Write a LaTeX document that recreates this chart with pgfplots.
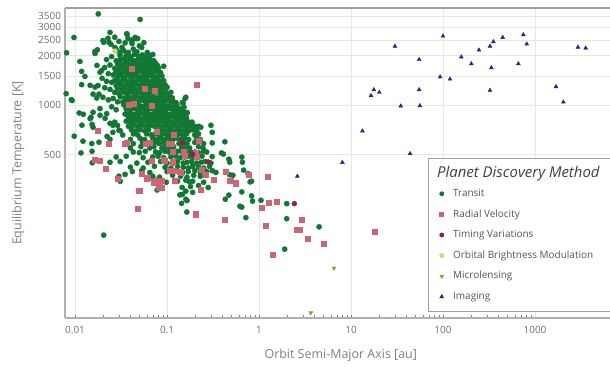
\documentclass[border=0pt]{standalone}
\usepackage{pgfplots}
\pgfplotsset{compat=1.18}
\usepackage{fontspec}
\setmainfont{Open Sans}
\definecolor{ctransit}{HTML}{117733}
\definecolor{crv}{HTML}{CC6677}
\definecolor{ctiming}{HTML}{882255}
\definecolor{cobm}{HTML}{DDCC77}
\definecolor{cmicro}{HTML}{999933}
\definecolor{cimg}{HTML}{332288}
\definecolor{axisgray}{HTML}{B0B0B0}
\definecolor{topgray}{HTML}{A0A0A0}
\definecolor{gridgray}{HTML}{E6E6E6}
\definecolor{tickgray}{HTML}{6E6E6E}
\definecolor{labelgray}{HTML}{808080}
\definecolor{legtext}{HTML}{555555}
\definecolor{legtitle}{HTML}{404040}
\begin{document}
\begin{tikzpicture}
\useasboundingbox (-65bp,-49bp) rectangle (545bp,318bp);
\begin{axis}[
  at={(0,0)}, anchor=south west, scale only axis,
  width=545bp, height=310bp,
  xmode=log, ymode=log,
  xmin=0.00778, xmax=6531, ymin=50.7, ymax=3915,
  axis x line*=bottom, axis y line*=left,
  axis line style={-, draw=axisgray, line width=1.2pt},
  xtick={0.01,0.1,1,10,100,1000},
  xticklabels={0.01,0.1,1,10,100,1000},
  ytick={500,1000,1500,2000,2500,3000,3500},
  yticklabels={500,1000,1500,2000,2500,3000,3500},
  minor xtick={}, minor ytick={},
  major tick length=0pt,
  grid=major,
  major grid style={draw=gridgray, line width=0.9pt},
  tick label style={font=\fontsize{10}{12}\selectfont, text=tickgray},
  xticklabel style={anchor=center, yshift=-12bp},
  yticklabel style={anchor=east, xshift=-0.5bp},
  every axis x label/.style={at={(axis description cs:0.506,-0.119)}, anchor=center},
  every axis y label/.style={at={(axis description cs:-0.086,0.5)}, rotate=90, anchor=center},
  label style={font=\fontsize{12.5}{15}\selectfont, text=labelgray},
  xlabel={Orbit Semi-Major Axis [au]},
  ylabel={Equilibrium Temperature [K]},
  clip=true,
  legend style={at={(rel axis cs:0.666,0.019)}, anchor=south west,
    draw=topgray, line width=0.8pt, fill=white,
    font=\fontsize{10}{12}\selectfont, text=legtext,
    inner xsep=11.4bp, inner ysep=9.7bp,
    row sep=10.1bp,
    nodes={inner sep=0bp, text height=8bp, text depth=2.5bp},
    row 1/.style={nodes={text height=11.7bp, text depth=0bp}},
    cells={anchor=west},
    /tikz/every odd column/.style={column sep=9.4bp}},
  legend image code/.code={\draw[#1, mark size=2bp] plot coordinates {(0bp,0bp)};},
]
\addlegendimage{empty legend}
\addlegendentry{\hspace{-16bp}\raisebox{-1.6bp}{\fontsize{15}{16}\selectfont\itshape\color{legtitle}Planet Discovery Method}}

% Transit
\addplot[only marks, mark=*, mark size=2.6bp, color=ctransit, mark options={fill=ctransit, draw=ctransit}] coordinates {
(0.0081,2090) (0.0080,1178) (0.0091,1083) (0.00975,2590) (0.0113,1850) (0.0118,1610) (0.0128,1500) (0.0118,1336)
(0.0146,1323) (0.0111,898) (0.0123,882) (0.0098,649) (0.0116,513) (0.0152,585) (0.0146,830) (0.0154,447)
(0.0119,757) (0.0122,605) (0.0157,907) (0.0187,870) (0.0149,845) (0.0153,766) (0.0157,735) (0.0182,596)
(0.0153,525) (0.0093,1070) (0.0165,1290) (0.0173,1750) (0.0187,1590) (0.0197,1460) (0.0178,1320) (0.0157,1170)
(0.0182,1170) (0.0201,1120) (0.0172,1108) (0.0187,955) (0.0221,890) (0.0195,1630) (0.0165,2130) (0.0175,2180)
(0.0165,2070) (0.0201,2480) (0.0205,2420) (0.0228,2560) (0.0179,3605) (0.051,3333) (0.024,2780) (0.0234,2420)
(0.0246,2350) (0.0368,2700) (0.0377,2550) (0.045,2590) (0.047,2550) (0.053,2250) (0.0417,2380) (0.0324,2250)
(0.0272,2250) (0.0286,2150) (0.0308,2010) (0.053,2010) (0.061,2100) (0.065,2010) (0.070,2040) (0.074,1830)
(0.092,1730) (0.079,1630) (0.083,1520) (0.09,1420) (0.076,1320) (0.1,1290) (0.105,1150) (0.125,1040)
(0.146,1040) (0.157,1100) (0.128,1000) (0.14,945) (0.15,920) (0.165,905) (0.16,1120) (0.15,1030)
(0.153,973) (0.165,895) (0.169,790) (0.187,790) (0.222,745) (0.233,735) (0.3,756) (0.31,685)
(0.31,590) (0.425,600) (0.246,550) (0.39,513) (0.41,505) (0.47,470) (0.48,450) (0.65,484) (0.31,487) (0.19,427)
(0.022,1900) (0.025,1980) (0.028,1870) (0.024,1760) (0.027,1680) (0.021,1700) (0.023,1560) (0.026,1530)
(0.029,1600) (0.022,1400) (0.025,1380) (0.028,1420) (0.024,1250) (0.027,1200) (0.021,1280) (0.023,1080)
(0.026,1100) (0.029,1050) (0.025,980) (0.028,940) (0.031,2100) (0.034,2150) (0.038,2100) (0.043,2200)
(0.047,2120) (0.05,2300) (0.041,2480) (0.035,2400) (0.03,2450) (0.027,2600) (0.0365,2730) (0.043,2520)
(0.048,2550) (0.056,2410) (0.0212,833) (0.024,777) (0.0258,756) (0.0223,647) (0.024,621) (0.0258,685) (0.030,705)
(0.036,2010) (0.040,1970) (0.044,2040) (0.049,1985) (0.054,2025) (0.059,1960) (0.064,2000)
(0.031,1880) (0.034,1915) (0.037,1870) (0.041,1905) (0.045,1865) (0.049,1920) (0.054,1885) (0.059,1870) (0.065,1910) (0.071,1875)
(0.029,1790) (0.032,1760) (0.035,1800) (0.038,1770) (0.042,1795) (0.046,1755) (0.050,1785) (0.055,1805) (0.060,1765) (0.066,1790) (0.072,1770) (0.078,1760)
(0.030,1670) (0.033,1700) (0.036,1665) (0.040,1690) (0.044,1660) (0.048,1695) (0.052,1675) (0.057,1705) (0.062,1665) (0.068,1685) (0.074,1670) (0.081,1690)
(0.028,1600) (0.031,1575) (0.034,1605) (0.037,1580) (0.041,1595) (0.045,1570) (0.049,1610) (0.054,1585) (0.059,1600) (0.064,1575) (0.070,1590) (0.076,1605) (0.085,1580)
(0.029,1490) (0.032,1515) (0.035,1485) (0.039,1510) (0.043,1495) (0.047,1520) (0.051,1480) (0.056,1505) (0.061,1490) (0.067,1515) (0.073,1485) (0.080,1500) (0.088,1510)
(0.027,1420) (0.030,1395) (0.033,1425) (0.036,1400) (0.040,1415) (0.044,1390) (0.048,1430) (0.053,1405) (0.058,1420) (0.063,1395) (0.069,1410) (0.075,1425) (0.082,1400) (0.092,1415)
(0.028,1320) (0.031,1345) (0.034,1315) (0.038,1340) (0.042,1325) (0.046,1350) (0.050,1320) (0.055,1335) (0.060,1345) (0.066,1315) (0.072,1330) (0.079,1340) (0.086,1320) (0.095,1335)
(0.029,1270) (0.032,1250) (0.036,1275) (0.039,1255) (0.043,1265) (0.047,1245) (0.052,1270) (0.057,1260) (0.062,1250) (0.068,1275) (0.074,1255) (0.081,1265) (0.089,1250) (0.098,1270)
(0.030,1180) (0.034,1200) (0.037,1185) (0.041,1205) (0.045,1175) (0.049,1195) (0.054,1185) (0.059,1200) (0.064,1180) (0.070,1195) (0.077,1205) (0.084,1185) (0.092,1195) (0.101,1180) (0.110,1200)
(0.031,1130) (0.035,1110) (0.038,1125) (0.042,1115) (0.046,1135) (0.051,1110) (0.056,1125) (0.061,1130) (0.066,1115) (0.072,1120) (0.079,1110) (0.087,1130) (0.095,1115) (0.104,1125) (0.114,1110)
(0.033,1050) (0.036,1070) (0.040,1055) (0.044,1065) (0.048,1050) (0.053,1075) (0.058,1055) (0.063,1060) (0.069,1070) (0.075,1050) (0.082,1065) (0.090,1055) (0.098,1070) (0.108,1060) (0.118,1050)
(0.034,1005) (0.038,990) (0.042,1010) (0.046,995) (0.050,1000) (0.055,985) (0.060,1010) (0.065,995) (0.071,1005) (0.078,990) (0.085,1000) (0.093,1010) (0.102,990) (0.112,1005) (0.122,995)
(0.036,950) (0.040,940) (0.044,955) (0.048,935) (0.052,950) (0.057,945) (0.062,940) (0.068,955) (0.074,945) (0.081,935) (0.089,950) (0.097,940) (0.106,955) (0.116,945) (0.127,935) (0.139,950)
(0.035,885) (0.039,895) (0.043,880) (0.047,890) (0.051,900) (0.056,885) (0.061,890) (0.067,880) (0.073,895) (0.080,885) (0.088,900) (0.096,890) (0.105,880) (0.115,895) (0.126,885) (0.138,890) (0.151,880)
(0.038,845) (0.042,835) (0.046,850) (0.050,840) (0.055,830) (0.060,845) (0.066,840) (0.072,850) (0.079,835) (0.086,845) (0.094,840) (0.103,830) (0.113,850) (0.124,835) (0.136,845) (0.149,840) (0.163,835)
(0.027,790) (0.036,800) (0.040,790) (0.045,800) (0.050,790) (0.056,800) (0.062,790) (0.069,800) (0.076,790) (0.084,800) (0.093,790) (0.103,800) (0.114,790) (0.126,800) (0.14,790) (0.155,800) (0.172,790)
(0.029,755) (0.038,745) (0.043,755) (0.048,745) (0.054,755) (0.06,745) (0.066,755) (0.073,745) (0.081,755) (0.09,745) (0.099,755) (0.11,745) (0.121,755) (0.134,745) (0.148,755) (0.164,745) (0.18,755) (0.2,745)
(0.031,700) (0.041,710) (0.046,700) (0.051,710) (0.057,700) (0.063,710) (0.078,700) (0.086,710) (0.095,700) (0.105,710) (0.116,700) (0.128,710) (0.142,700) (0.157,710) (0.173,700) (0.19,710) (0.21,700)
(0.033,660) (0.043,670) (0.048,660) (0.06,670) (0.067,660) (0.074,670) (0.082,660) (0.09,670) (0.1,660) (0.11,670) (0.121,660) (0.134,670) (0.148,660) (0.163,670) (0.2,660) (0.22,670)
(0.04,620) (0.051,630) (0.057,620) (0.07,630) (0.078,620) (0.086,630) (0.095,620) (0.105,630) (0.116,620) (0.128,630) (0.141,620) (0.156,630) (0.172,620) (0.21,630) (0.23,620)
(0.043,585) (0.054,595) (0.067,585) (0.074,595) (0.082,585) (0.091,595) (0.1,585) (0.11,595) (0.135,585) (0.149,595) (0.165,585) (0.2,595) (0.25,585)
(0.04,550) (0.052,560) (0.065,550) (0.072,560) (0.088,550) (0.097,560) (0.107,550) (0.118,560) (0.144,550) (0.16,560) (0.176,550) (0.22,560)
(0.043,520) (0.05,515) (0.058,525) (0.075,520) (0.083,515) (0.095,525) (0.105,520) (0.118,515) (0.13,525) (0.145,520) (0.16,515) (0.178,525) (0.2,520) (0.22,515) (0.25,525) (0.27,520)
(0.028,485) (0.036,490) (0.055,480) (0.07,485) (0.08,490) (0.092,480) (0.11,485) (0.125,490) (0.14,480) (0.155,485) (0.175,490) (0.195,480) (0.215,485) (0.24,490)
(0.024,450) (0.031,455) (0.047,445) (0.062,450) (0.085,455) (0.1,445) (0.115,450) (0.13,455) (0.15,445) (0.165,450) (0.185,455) (0.21,445) (0.235,450) (0.26,455) (0.3,445) (0.66,450)
(0.04,420) (0.055,415) (0.073,425) (0.095,420) (0.11,415) (0.13,425) (0.15,420) (0.17,415) (0.19,425) (0.22,420) (0.25,415) (0.29,425)
(0.042,395) (0.053,400) (0.065,390) (0.1,395) (0.125,400) (0.148,390) (0.17,395) (0.2,400) (0.23,390) (0.27,395) (0.31,400) (0.34,390) (0.68,403) (0.76,384)
(0.03,370) (0.035,380) (0.07,370) (0.083,365) (0.115,375) (0.14,370) (0.165,365) (0.195,375) (0.23,370) (0.48,378) (0.52,375)
(0.031,345) (0.076,350) (0.098,340) (0.13,345) (0.16,350) (0.175,342) (0.19,345) (0.25,340) (0.8,342) (0.83,345)
(0.084,320) (0.146,316) (0.18,320) (0.22,325) (0.28,316)
(0.078,305) (0.16,300) (0.19,295) (0.65,297)
(0.138,285) (0.147,287) (0.47,284) (0.83,281)
(0.16,268) (0.165,263) (0.43,268) (1.05,264) (0.85,261)
(0.144,253) (2.0,252) (0.62,243) (0.65,240) (0.164,224) (0.72,207) (2.0,204) (4.5,182) (0.0205,162) (1.9,133) (1.19,184)
};
\addlegendentry{Transit}

% Radial velocity
\addplot[only marks, mark=square*, mark size=2.5bp, color=crv, mark options={fill=crv, draw=crv}] coordinates {
(0.0175,698) (0.023,585) (0.035,585) (0.0165,467) (0.0187,463) (0.0217,409) (0.0288,356) (0.0488,300)
(0.051,300) (0.0485,234) (0.053,385) (0.061,363) (0.068,463) (0.078,346) (0.084,322) (0.0387,1014)
(0.065,593) (0.091,467) (0.0413,1671) (0.0577,1263) (0.074,1234) (0.068,1000) (0.059,585) (0.21,1342)
(0.106,401) (0.138,393) (0.114,520) (0.154,496) (0.21,486) (0.0365,590) (0.103,585) (0.043,1024)
(0.06,355) (0.071,340) (0.082,316) (0.141,388) (0.205,217) (0.12,348) (0.114,452) (0.223,607)
(0.078,695) (0.119,664) (0.113,585) (0.150,520) (0.205,517) (0.094,463) (0.114,449) (0.238,406)
(0.434,396) (0.119,398) (0.142,390) (0.072,342) (0.088,347) (0.088,316) (0.318,352) (0.484,348)
(0.563,337) (0.77,380) (0.234,308) (0.203,218) (0.424,201) (0.264,380) (0.556,335) (0.49,348)
(1.23,370) (1.27,257) (1.57,260) (1.08,239) (2.91,202) (1.19,184) (2.57,176) (2.79,176)
(3.41,155) (5.0,144) (1.41,124) (18.1,170)
};
\addlegendentry{Radial Velocity}

% Timing variations
\addplot[only marks, mark=*, mark size=2.5bp, color=ctiming, mark options={fill=ctiming, draw=ctiming}] coordinates {
(0.147,590) (0.19,505) (0.281,452) (2.42,252)
};
\addlegendentry{Timing Variations}

% Orbital brightness modulation
\addplot[only marks, mark=*, mark size=2.5bp, color=cobm, mark options={fill=cobm, draw=cobm}] coordinates {
(0.0272,2140)
};
\addlegendentry{Orbital Brightness Modulation}

% Microlensing
\addplot[only marks, mark=triangle*, mark size=2.3bp, color=cmicro, mark options={fill=cmicro, draw=cmicro, rotate=180}] coordinates {
(6.53,102) (3.65,54.5)
};
\addlegendentry{Microlensing}

% Imaging
\addplot[only marks, mark=triangle*, mark size=2.3bp, color=cimg, mark options={fill=cimg, draw=cimg}] coordinates {
(30,2290) (100,2640) (55,1900) (93,1490) (119,1445) (55,1245) (20.3,1200) (34.7,990)
(56,995) (43.8,508) (158,1970) (203,1790) (246,2170) (324,2290) (353,2440) (445,2590)
(335,1694) (324,1233) (747,2690) (813,2360) (658,1790) (1690,1299) (2032,1047) (2930,2260)
(3556,2230) (17.7,1245) (16.5,1145) (13.3,698) (8.05,449) (2.61,370)
};
\addlegendentry{Imaging}

\draw[topgray, line width=1.2pt] (rel axis cs:0,1) -- (rel axis cs:1,1);
\end{axis}
\end{tikzpicture}
\end{document}
